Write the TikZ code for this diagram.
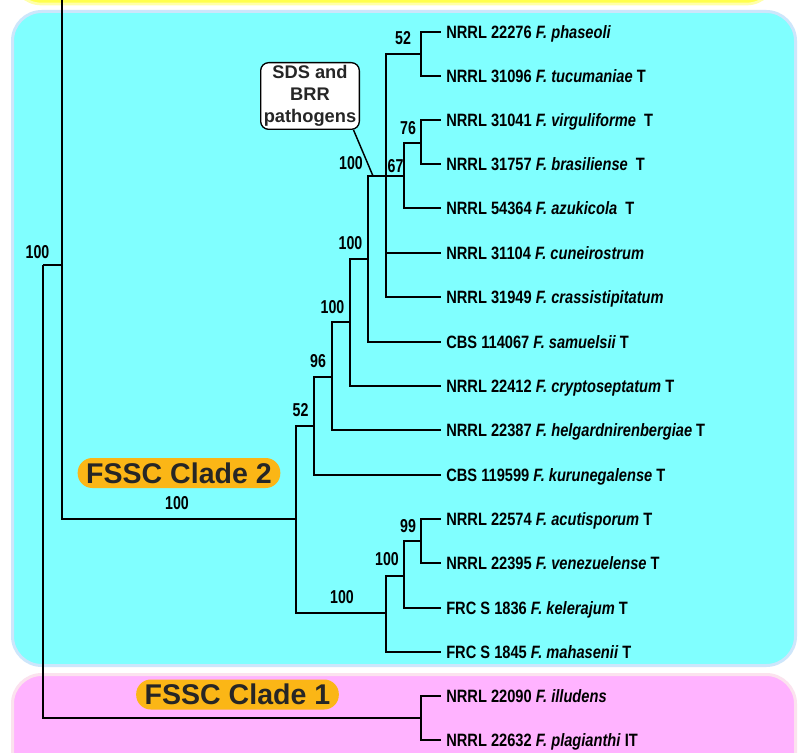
\documentclass[tikz,border=0pt]{standalone}
\usepackage{fontspec}
\setmainfont{Liberation Sans}
\newfontfamily\narrowsans[FakeStretch=0.82]{Liberation Sans}
\newfontfamily\bootsans[FakeStretch=0.76]{Liberation Sans}
\definecolor{cladecyan}{HTML}{80FFFF}
\definecolor{cyanrim}{HTML}{CDE6FB}
\definecolor{cladepink}{HTML}{FFB3FF}
\definecolor{pinkrim}{HTML}{FBE2EE}
\definecolor{cladeyellow}{HTML}{FFFF4D}
\definecolor{yellowrim}{HTML}{FFFFAA}
\definecolor{pillorange}{HTML}{FBB616}
\definecolor{darktext}{HTML}{262626}

\begin{document}
\begin{tikzpicture}[x=0.75pt, y=-0.75pt,
    branch/.style={line width=1.4pt},
    tip/.style={anchor=west, inner xsep=3.75pt, inner ysep=0pt, text height=9.2pt, text depth=0pt,
        font=\narrowsans\bfseries\fontsize{13.4}{15}\selectfont},
    boot/.style={inner sep=0pt, font=\bootsans\bfseries\fontsize{14}{16}\selectfont},
    clade/.style={fill=pillorange, rounded corners=11pt, minimum width=152pt, minimum height=22.5pt,
        inner sep=0pt, text height=15.3pt, text depth=0pt, text=darktext,
        font=\bfseries\fontsize{21.4}{24}\selectfont},
    callout/.style={draw, fill=white, line width=1pt, rounded corners=6pt, align=center,
        minimum width=74pt, minimum height=50pt, inner sep=2pt, text=darktext,
        font=\bfseries\fontsize{13.7}{16.5}\selectfont}]
    \useasboundingbox (0,0) rectangle (809,752);
    \fill[white] (0,0) rectangle (809,752);
    % coloured clade panels
    \begin{scope}
        \clip (0,0) rectangle (809,752);
        \draw[fill=cladeyellow, draw=yellowrim, line width=2pt, rounded corners=22pt] (12,-60) rectangle (776,4);
        \draw[fill=cladecyan, draw=cyanrim, line width=2.25pt, rounded corners=22pt] (12.5,11.5) rectangle (795.5,665.5);
        \draw[fill=cladepink, draw=pinkrim, line width=2.25pt, rounded corners=22pt] (12.5,674.5) rectangle (795.5,800);
    \end{scope}

    % tree nodes
    \coordinate (root) at (43,265);
    \coordinate (ingrp) at (62,265);
    \coordinate (outtop) at (62,0);
    \coordinate (c2) at (296,519);
    \coordinate (n52b) at (314,426);
    \coordinate (n96) at (332,377);
    \coordinate (n100c) at (350,322);
    \coordinate (n100d) at (368,259);
    \coordinate (sds) at (386,176);
    \coordinate (n52a) at (421,54);
    \coordinate (n67) at (404,176);
    \coordinate (n76) at (421,143);
    \coordinate (n100f) at (386,613);
    \coordinate (n100g) at (404,576);
    \coordinate (n99) at (421,541);
    \coordinate (c1) at (421,718);

    % taxa
    \node[tip] (t1) at (441,32) {NRRL 22276 \textit{F. phaseoli}};
    \node[tip] (t2) at (441,76) {NRRL 31096 \textit{F. tucumaniae} T};
    \node[tip] (t3) at (441,120) {NRRL 31041 \textit{F. virguliforme}\hspace{0.45em}T};
    \node[tip] (t4) at (441,164) {NRRL 31757 \textit{F. brasiliense}\hspace{0.45em}T};
    \node[tip] (t5) at (441,208) {NRRL 54364 \textit{F. azukicola}\hspace{0.45em}T};
    \node[tip] (t6) at (441,253) {NRRL 31104 \textit{F. cuneirostrum}};
    \node[tip] (t7) at (441,297) {NRRL 31949 \textit{F. crassistipitatum}};
    \node[tip] (t8) at (441,342) {CBS 114067 \textit{F. samuelsii} T};
    \node[tip] (t9) at (441,386) {NRRL 22412 \textit{F. cryptoseptatum} T};
    \node[tip] (t10) at (441,430) {NRRL 22387 \textit{F. helgardnirenbergiae} T};
    \node[tip] (t11) at (441,475) {CBS 119599 \textit{F. kurunegalense} T};
    \node[tip] (t12) at (441,519) {NRRL 22574 \textit{F. acutisporum} T};
    \node[tip] (t13) at (441,563) {NRRL 22395 \textit{F. venezuelense} T};
    \node[tip] (t14) at (441,608) {FRC S 1836 \textit{F. kelerajum} T};
    \node[tip] (t15) at (441,652) {FRC S 1845 \textit{F. mahasenii} T};
    \node[tip] (t16) at (441,696) {NRRL 22090 \textit{F. illudens}};
    \node[tip] (t17) at (441,740) {NRRL 22632 \textit{F. plagianthi} IT};

    % branches
    \draw[branch] (root) -- (ingrp) -- (outtop);
    \draw[branch] (root) |- (c1);
    \draw[branch] (ingrp) |- (c2);
    \draw[branch] (c2) |- (n52b);
    \draw[branch] (c2) |- (n100f);
    \draw[branch] (n52b) |- (n96);
    \draw[branch] (n52b) |- (t11.west);
    \draw[branch] (n96) |- (n100c);
    \draw[branch] (n96) |- (t10.west);
    \draw[branch] (n100c) |- (n100d);
    \draw[branch] (n100c) |- (t9.west);
    \draw[branch] (n100d) |- (sds);
    \draw[branch] (n100d) |- (t8.west);
    \draw[branch] (sds) |- (n52a);
    \draw[branch] (sds) -- (n67);
    \draw[branch] (sds) |- (t6.west);
    \draw[branch] (sds) |- (t7.west);
    \draw[branch] (n52a) |- (t1.west);
    \draw[branch] (n52a) |- (t2.west);
    \draw[branch] (n67) |- (n76);
    \draw[branch] (n67) |- (t5.west);
    \draw[branch] (n76) |- (t3.west);
    \draw[branch] (n76) |- (t4.west);
    \draw[branch] (n100f) |- (n100g);
    \draw[branch] (n100f) |- (t15.west);
    \draw[branch] (n100g) |- (n99);
    \draw[branch] (n100g) |- (t14.west);
    \draw[branch] (n99) |- (t12.west);
    \draw[branch] (n99) |- (t13.west);
    \draw[branch] (c1) |- (t16.west);
    \draw[branch] (c1) |- (t17.west);

    % bootstrap values
    \node[boot] (b52a) at (403,38) {52};
    \node[boot] (b76) at (408,128) {76};
    \node[boot] (b67) at (395.5,166) {67};
    \node[boot] (b100e) at (351,163) {100};
    \node[boot] (b100d) at (350.5,243) {100};
    \node[boot] (b100c) at (332.5,307) {100};
    \node[boot] (b96) at (318,361) {96};
    \node[boot] (b52b) at (300.5,410) {52};
    \node[boot] (broot) at (37.5,252) {100};
    \node[boot] (bc2) at (177,503) {100};
    \node[boot] (b100f) at (342,597) {100};
    \node[boot] (b100g) at (387,559) {100};
    \node[boot] (b99) at (408,526) {99};

    % labels
    \node[callout] (sdsbox) at (310,96) {SDS and\\BRR\\pathogens};
    \coordinate (sdspt) at (373,176);
    \draw[line width=1.1pt] (sdsbox.-38) -- (sdspt);
    \node[clade] (clade2) at (179,473) {FSSC Clade 2};
    \node[clade] (clade1) at (237.5,694.5) {FSSC Clade 1};
\end{tikzpicture}
\end{document}
